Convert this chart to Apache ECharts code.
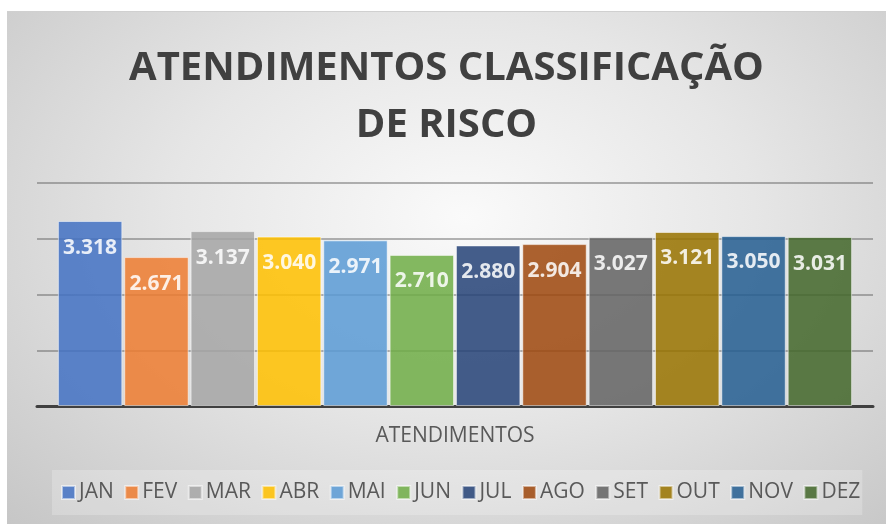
<!DOCTYPE html>
<html>
<head>
<meta charset="utf-8">
<script src="https://cdn.jsdelivr.net/npm/echarts@6/dist/echarts.min.js"></script>
<style>
  html, body { margin: 0; padding: 0; background: #fff; }
  #main {
    position: absolute; left: 7px; top: 11px; width: 879px; height: 513px;
    background: radial-gradient(ellipse at 52% 40%, #fafafa 0%, #e6e6e6 45%, #c6c6c6 100%);
    border-top: 1px solid #d0d0d0;
  }
</style>
</head>
<body>
<div id="main"></div>
<script>
// dados
const categories = ['ATENDIMENTOS']
const months = ['JAN', 'FEV', 'MAR', 'ABR', 'MAI', 'JUN', 'JUL', 'AGO', 'SET', 'OUT', 'NOV', 'DEZ']
const values = [3318, 2671, 3137, 3040, 2971, 2710, 2880, 2904, 3027, 3121, 3050, 3031]
const colors = ['#4472C4', '#ED7D31', '#A5A5A5', '#FFC000', '#5B9BD5', '#70AD47',
  '#264478', '#9E480E', '#636363', '#997300', '#255E91', '#43682B']

const fmt = v => (v / 1000).toFixed(3)

const chart = echarts.init(document.getElementById('main'))
chart.setOption({
  backgroundColor: 'transparent',
  color: colors,
  title: {
    text: 'ATENDIMENTOS CLASSIFICAÇÃO\nDE RISCO',
    left: 'center',
    top: 23,
    textStyle: {
      fontFamily: 'Open Sans',
      fontWeight: 'bold',
      fontSize: 40,
      lineHeight: 57,
      color: '#404040'
    }
  },
  legend: {
    bottom: 10,
    left: 45,
    itemWidth: 13,
    itemHeight: 13,
    itemGap: 10.5,
    padding: [12, 2, 12, 9],
    backgroundColor: 'rgba(255,255,255,0.22)',
    icon: 'rect',
    data: months,
    textStyle: { fontFamily: 'Open Sans', fontSize: 21, color: '#595959', padding: [0, 0, 0, -1] }
  },
  grid: { left: 30, right: 13, top: 171, bottom: 119 },
  xAxis: {
    type: 'category',
    data: categories,
    axisLine: { lineStyle: { color: '#404040', width: 3 } },
    axisTick: { show: false },
    axisLabel: { margin: 20, fontFamily: 'Open Sans', fontSize: 21, color: '#595959' }
  },
  yAxis: {
    type: 'value',
    min: 0,
    max: 4000,
    interval: 1000,
    axisLabel: { show: false },
    axisLine: { show: false },
    axisTick: { show: false },
    splitLine: { lineStyle: { color: 'rgba(90,90,90,0.45)', width: 2 } }
  },
  series: months.map((m, i) => ({
    name: m,
    type: 'bar',
    data: [values[i]],
    barGap: '3%',
    barCategoryGap: '5%',
    itemStyle: {
      color: colors[i],
      opacity: 0.86,
      borderColor: 'rgba(255,255,255,0.6)',
      borderWidth: 1
    },
    label: {
      show: true,
      position: 'insideTop',
      distance: 16,
      formatter: p => fmt(p.value),
      fontFamily: 'Open Sans',
      fontWeight: 'bold',
      fontSize: 21,
      color: '#fff'
    }
  }))
})
</script>
</body>
</html>
